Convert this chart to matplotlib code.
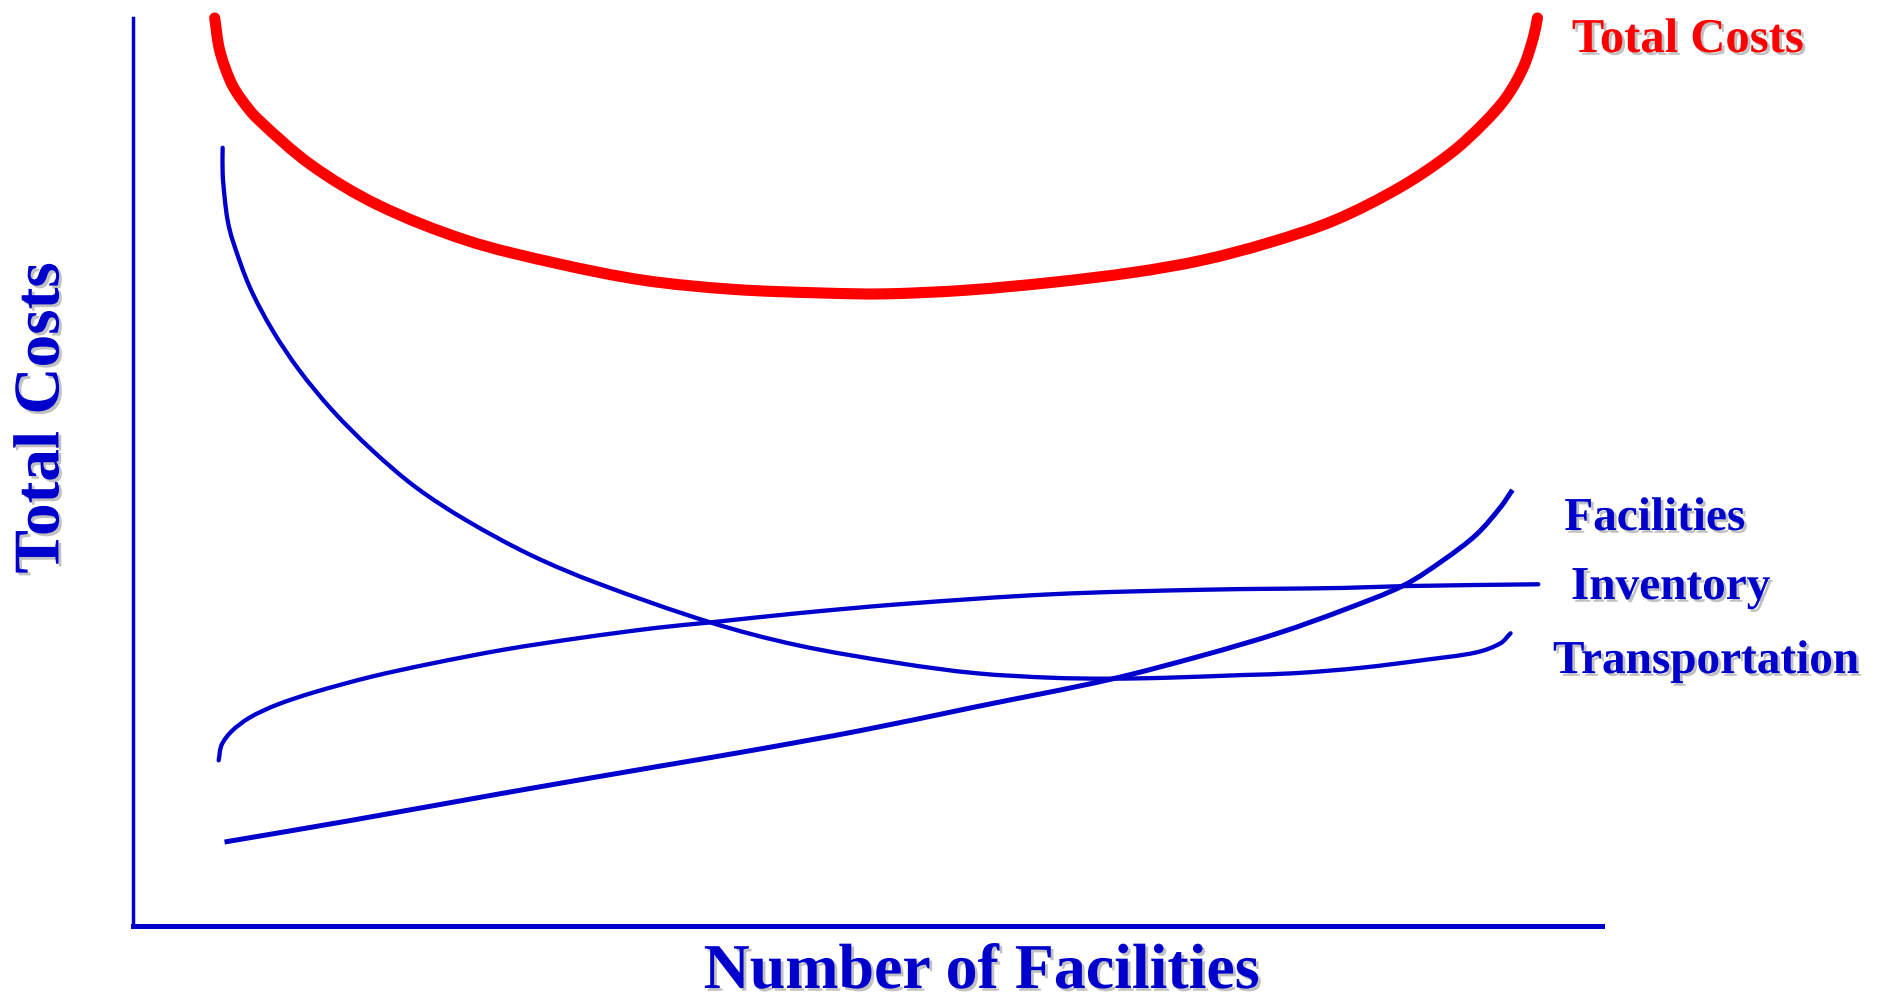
import matplotlib
matplotlib.use('Agg')
import matplotlib.pyplot as plt
import matplotlib.patheffects as pe
from matplotlib.path import Path
from matplotlib.patches import PathPatch
import numpy as np

# cost curves (x = number of facilities, y = cost, arbitrary units)
total_x = [0.556, 0.589, 0.664, 0.739, 0.847, 1.213, 1.667, 2.270, 2.873, 3.476, 4.085, 4.688, 5.108,
           5.664, 6.274, 6.823, 7.276, 7.724, 8.178, 8.631, 8.970, 9.194, 9.350, 9.465, 9.533, 9.560]
total_y = [10.0, 9.65, 9.30, 9.10, 8.89, 8.38, 7.94, 7.55, 7.30, 7.11, 7.01, 6.97, 6.96,
           7.00, 7.09, 7.20, 7.33, 7.52, 7.77, 8.14, 8.51, 8.84, 9.13, 9.46, 9.79, 10.0]

transport_x = [0.610, 0.610, 0.623, 0.644, 0.678, 0.793, 0.949, 1.131, 1.355, 1.626, 1.924, 2.263,
               2.710, 3.164, 3.930, 4.519, 5.217, 5.738, 6.253, 6.646, 7.033, 7.554, 7.907, 8.360,
               8.808, 9.146, 9.309, 9.377]
transport_y = [8.57, 8.29, 8.03, 7.77, 7.55, 7.04, 6.56, 6.12, 5.68, 5.24, 4.83, 4.47,
               4.08, 3.77, 3.34, 3.09, 2.89, 2.78, 2.73, 2.72, 2.73, 2.76, 2.78, 2.84,
               2.93, 3.01, 3.11, 3.22]

inventory_x = [0.583, 0.603, 0.671, 0.793, 0.976, 1.233, 1.619, 2.012, 2.527, 3.049, 3.564, 3.930,
               4.519, 5.217, 6.253, 7.290, 8.245, 8.652, 9.566]
inventory_y = [1.82, 1.99, 2.14, 2.29, 2.43, 2.57, 2.74, 2.88, 3.04, 3.17, 3.28, 3.34,
               3.44, 3.54, 3.65, 3.70, 3.72, 3.74, 3.76]

facilities_x = [0.623, 1.491, 2.527, 3.564, 4.180, 4.959, 5.738, 6.646, 7.290, 7.812, 8.245, 8.652,
                8.923, 9.146, 9.309, 9.390]
facilities_y = [0.92, 1.16, 1.46, 1.75, 1.92, 2.15, 2.41, 2.71, 2.98, 3.23, 3.48, 3.75,
                4.03, 4.31, 4.61, 4.80]

blue = '#0000CC'
red = '#FF0000'
plt.rcParams['font.family'] = ['Liberation Serif', 'DejaVu Serif']
shadow = [pe.withSimplePatchShadow(offset=(2, -2), shadow_rgbFace='#999999', alpha=0.6)]

fig = plt.figure(figsize=(18.87, 10), dpi=100)
ax = fig.add_axes([0.0705, 0.0745, 0.7785, 0.9075])
ax.set_xlim(0, 10)
ax.set_ylim(0, 10)


def smooth_curve(xs, ys, color, lw, cap='round'):
    # bezier path through the read points (tangents from neighbours, scaled by on-screen spacing)
    pts = np.column_stack([xs, ys]).astype(float)
    scr = ax.transData.transform(pts)
    d = np.hypot(*np.diff(scr, axis=0).T)
    n = len(pts)
    m = np.zeros_like(pts)
    m[0] = (pts[1] - pts[0]) / d[0]
    m[-1] = (pts[-1] - pts[-2]) / d[-1]
    for i in range(1, n - 1):
        m[i] = (pts[i + 1] - pts[i - 1]) / (d[i - 1] + d[i])
    verts = [pts[0]]
    codes = [Path.MOVETO]
    for i in range(n - 1):
        verts += [pts[i] + m[i] * d[i] / 3, pts[i + 1] - m[i + 1] * d[i] / 3, pts[i + 1]]
        codes += [Path.CURVE4] * 3
    patch = PathPatch(Path(verts, codes), fill=False, edgecolor=color, linewidth=lw,
                      capstyle=cap, joinstyle='round', clip_on=False)
    ax.add_patch(patch)


smooth_curve(total_x, total_y, red, 8)
smooth_curve(transport_x, transport_y, blue, 3.1)
smooth_curve(inventory_x, inventory_y, blue, 3.1)
smooth_curve(facilities_x, facilities_y, blue, 3.6, cap='butt')

ax.set_xticks([])
ax.set_yticks([])
ax.spines['top'].set_visible(False)
ax.spines['right'].set_visible(False)
ax.spines['left'].set_color(blue)
ax.spines['left'].set_linewidth(2.5)
ax.spines['bottom'].set_color(blue)
ax.spines['bottom'].set_linewidth(3.6)

# curve labels on the right
fig.text(0.833, 0.948, 'Total Costs', color=red, fontsize=35, fontweight='bold',
         va='baseline', path_effects=shadow)
fig.text(0.829, 0.470, 'Facilities', color=blue, fontsize=34, fontweight='bold',
         va='baseline', path_effects=shadow)
fig.text(0.8325, 0.401, 'Inventory', color=blue, fontsize=34, fontweight='bold',
         va='baseline', path_effects=shadow)
fig.text(0.823, 0.327, 'Transportation', color=blue, fontsize=34, fontweight='bold',
         va='baseline', path_effects=shadow)

# axis titles
fig.text(0.0225, 0.582, 'Total Costs', color=blue, fontsize=47, fontweight='bold',
         rotation=90, ha='center', va='center', path_effects=shadow)
fig.text(0.520, 0.012, 'Number of Facilities', color=blue, fontsize=46, fontweight='bold',
         ha='center', va='baseline', path_effects=shadow)

fig.savefig('out.png', dpi=100, facecolor='white')
